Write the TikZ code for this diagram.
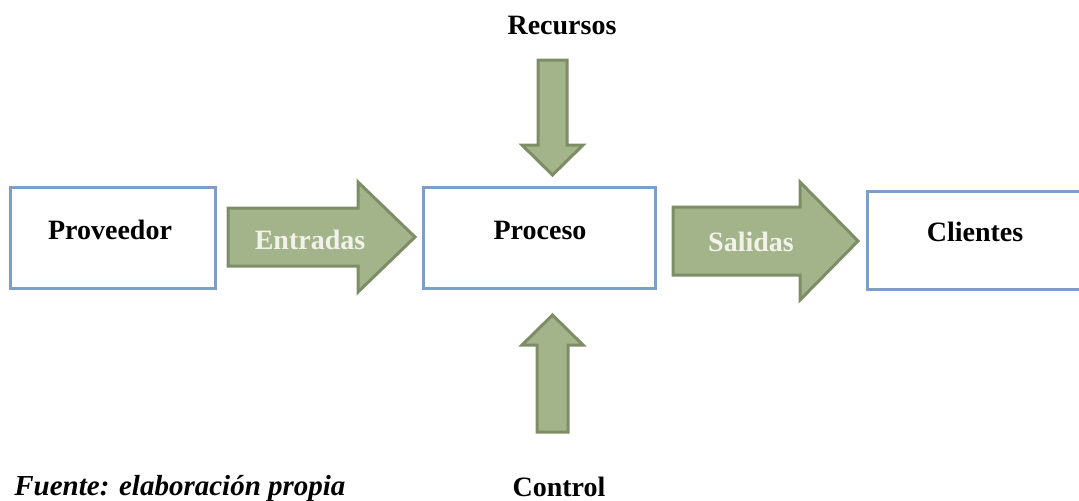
\documentclass[tikz,border=0pt]{standalone}
\usepackage{fontspec}
\setmainfont{Liberation Serif}
\definecolor{boxblue}{HTML}{7E9DC9}
\definecolor{arrowfill}{HTML}{A3B48B}
\definecolor{arrowline}{HTML}{7D8E67}
\definecolor{arrowtext}{HTML}{F2F2EA}
\begin{document}
\begin{tikzpicture}[x=0.5pt,y=-0.5pt,
  box/.style={draw=boxblue, line width=1.5pt, fill=white, rectangle, inner sep=0pt},
  lbl/.style={font=\fontsize{14}{16}\selectfont\bfseries, inner sep=0pt},
  alabel/.style={font=\fontsize{14}{16}\selectfont\bfseries, text=arrowtext, inner sep=0pt},
  blockarrow/.style={fill=arrowfill, draw=arrowline, line width=1.5pt, line join=miter}]
\useasboundingbox (0,0) rectangle (1079,500);
\clip (0,0) rectangle (1079,500);
% boxes
\node[box, minimum width=102.5pt, minimum height=50.5pt] (prov) at (112.5,237.5) {};
\node[box, minimum width=116pt, minimum height=50.5pt] (proc) at (539,237.5) {};
\node[box, minimum width=111.5pt, minimum height=49pt] (cli) at (978.5,240) {};
\node[lbl] (provt) at (110,230) {Proveedor};
\node[lbl] (proct) at (540,230) {Proceso};
\node[lbl] (clit) at (975,232) {Clientes};
% block arrows
\draw[blockarrow] (228,208) -- (358,208) -- (358,182) -- (415,237) -- (358,292) -- (358,266) -- (228,266) -- cycle;
\draw[blockarrow] (673,207) -- (800,207) -- (800,182) -- (858,241) -- (800,300) -- (800,275) -- (673,275) -- cycle;
\draw[blockarrow] (538,60) -- (567,60) -- (567,145) -- (583,145) -- (552.5,175) -- (522,145) -- (538,145) -- cycle;
\draw[blockarrow] (537,432) -- (568,432) -- (568,345) -- (583,345) -- (552.5,315) -- (522,345) -- (537,345) -- cycle;
\node[alabel] (ent) at (310,240) {Entradas};
\node[alabel] (sal) at (751,242) {Salidas};
% outer labels
\node[lbl] (rec) at (562,25) {Recursos};
\node[lbl] (ctl) at (559,487) {Control};
\node[font=\fontsize{14.5}{17}\selectfont\bfseries\itshape, inner sep=0pt, anchor=base west] (fuente) at (14,495) {Fuente: elaboración propia};
\end{tikzpicture}
\end{document}
